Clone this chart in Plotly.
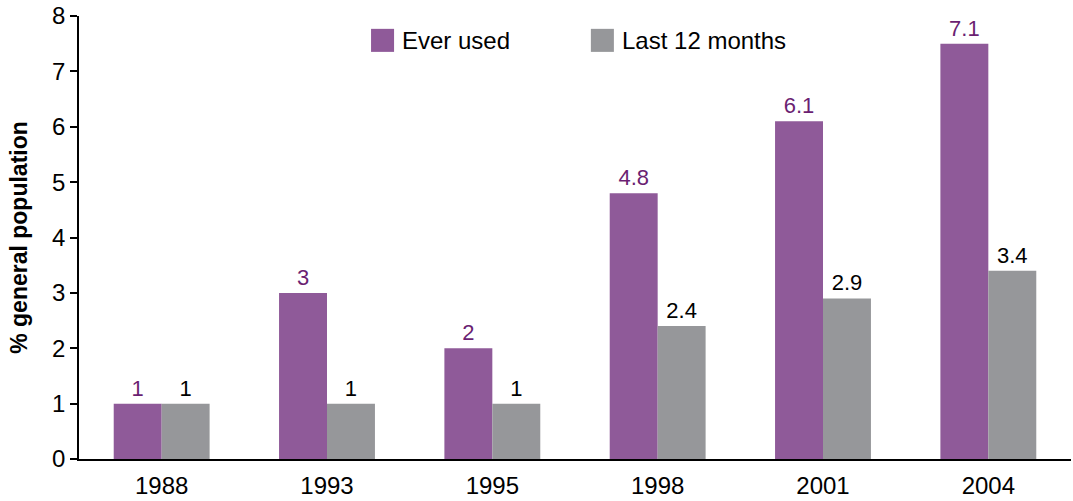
import plotly.graph_objects as go

years = ["1988", "1993", "1995", "1998", "2001", "2004"]
ever_used = [1, 3, 2, 4.8, 6.1, 7.5]
ever_used_labels = ["1", "3", "2", "4.8", "6.1", "7.1"]
last_12_months = [1, 1, 1, 2.4, 2.9, 3.4]
last_12_labels = ["1", "1", "1", "2.4", "2.9", "3.4"]
series_names = ["Ever used", "Last 12 months"]

PURPLE = "#8f5a99"
PURPLE_TEXT = "#6b1f72"
GREY = "#96979a"
FONT = "Liberation Sans, Arial, sans-serif"

fig = go.Figure()
fig.add_trace(go.Bar(
    x=years, y=ever_used, name=series_names[0],
    marker_color=PURPLE, marker_line_width=0,
    text=ever_used_labels, textposition="outside",
    textfont=dict(color=PURPLE_TEXT, size=22),
    cliponaxis=False,
))
fig.add_trace(go.Bar(
    x=years, y=last_12_months, name=series_names[1],
    marker_color=GREY, marker_line_width=0,
    text=last_12_labels, textposition="outside",
    textfont=dict(color="black", size=22),
    cliponaxis=False,
))

# legend drawn by hand so the swatches match the original size
legend_items = [(series_names[0], PURPLE, 0.2944), (series_names[1], GREY, 0.516)]
for name, color, x0 in legend_items:
    fig.add_shape(type="rect", xref="paper", yref="paper",
                  x0=x0, x1=x0 + 0.0232, y0=0.919, y1=0.971,
                  fillcolor=color, line_width=0)
    fig.add_annotation(xref="paper", yref="paper", x=x0 + 0.0292, y=0.944,
                       xanchor="left", yanchor="middle", showarrow=False,
                       text=name, font=dict(size=24, color="black"))

fig.update_layout(
    width=1073, height=501,
    margin=dict(l=79, r=2, t=13, b=41),
    barmode="group", bargap=0.42, bargroupgap=0,
    plot_bgcolor="white", paper_bgcolor="white",
    font=dict(family=FONT, size=24, color="black"),
    showlegend=False,
    xaxis=dict(
        showline=True, linecolor="black", linewidth=1.5,
        ticks="", showgrid=False, tickfont=dict(size=24),
        ticklabelstandoff=4,
    ),
    yaxis=dict(
        range=[0, 8], tickvals=list(range(9)), showline=True,
        linecolor="black", linewidth=1.5,
        ticks="outside", ticklen=7, tickcolor="black", tickwidth=1.5,
        showgrid=False, zeroline=False, tickfont=dict(size=24),
        ticklabeloverflow="allow",
        title=dict(text="<b>% general population</b>", font=dict(size=23), standoff=18),
    ),
)

fig.write_html("out.html", config={"displayModeBar": False},
               post_script="document.body.style.margin='0';")
